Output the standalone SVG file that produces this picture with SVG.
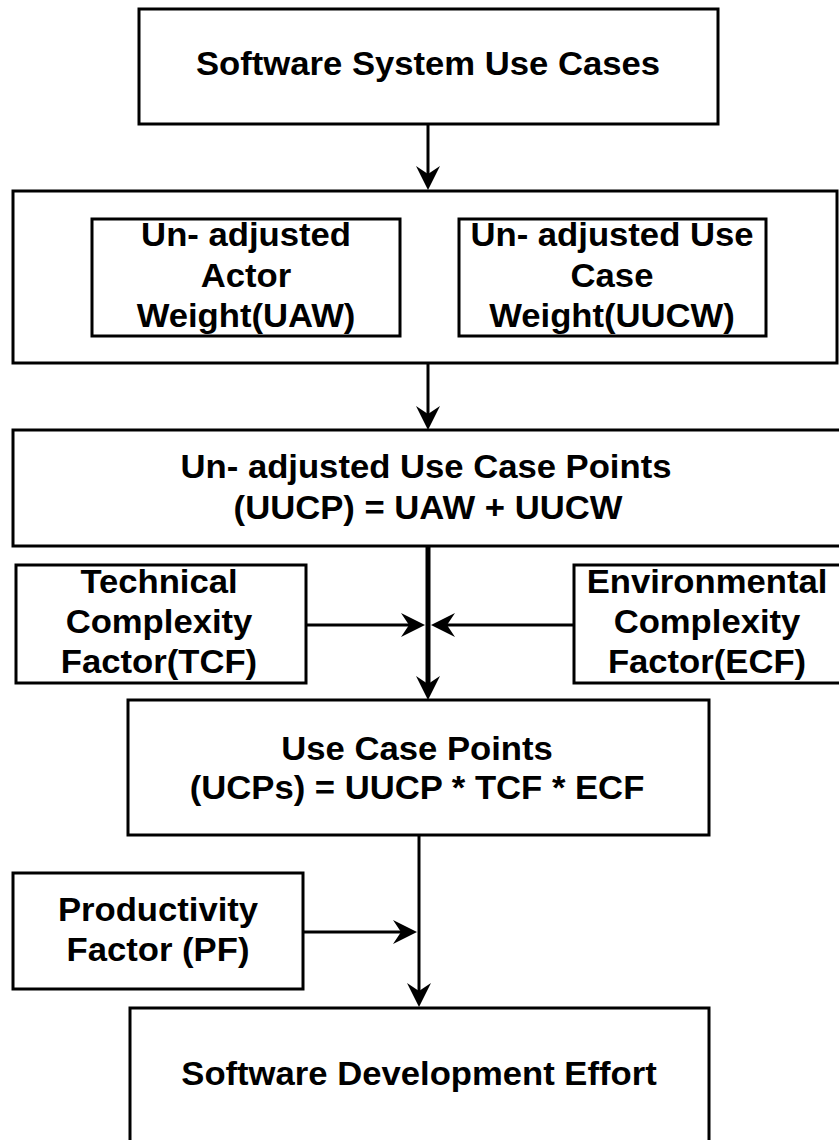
<svg xmlns="http://www.w3.org/2000/svg" width="839" height="1140" viewBox="0 0 839 1140">
  <style>
    .box { fill: #ffffff; stroke: #000000; stroke-width: 3; }
    .lbl { font-family: "Liberation Sans", Arial, Helvetica, sans-serif; font-weight: bold; font-size: 33px; fill: #000000; text-anchor: middle; }
    .link { fill: none; stroke: #000000; stroke-width: 3; }
    .thick { stroke-width: 5; }
  </style>
  <defs>
    <marker id="head" markerUnits="userSpaceOnUse" markerWidth="26" markerHeight="26" viewBox="0 0 26 26" refX="13" refY="13" orient="auto">
      <path d="M0,1 L24,13 L0,25 L8,13 Z" fill="#000000"/>
    </marker>
  </defs>

  <rect width="839" height="1140" fill="#ffffff"/>

  <!-- connectors -->
  <g id="connectors">
    <line class="link" x1="428" y1="124" x2="428" y2="179" marker-end="url(#head)"/>
    <line class="link" x1="428" y1="363" x2="428" y2="419" marker-end="url(#head)"/>
    <line class="link thick" x1="428" y1="546" x2="428" y2="689" marker-end="url(#head)"/>
    <line class="link" x1="306" y1="625" x2="414" y2="625" marker-end="url(#head)"/>
    <line class="link" x1="574" y1="625" x2="442" y2="625" marker-end="url(#head)"/>
    <line class="link" x1="419" y1="835" x2="419" y2="996" marker-end="url(#head)"/>
    <line class="link" x1="303" y1="932" x2="406" y2="932" marker-end="url(#head)"/>
  </g>

  <!-- nodes -->
  <g id="use-cases">
    <rect class="box" x="139" y="9" width="579" height="115"/>
    <text class="lbl" transform="translate(428 75) scale(1.05 1)">Software System Use Cases</text>
  </g>

  <g id="unadjusted-weights">
    <rect class="box" x="13" y="191" width="824" height="172"/>
  </g>

  <g id="uaw">
    <rect class="box" x="92" y="219" width="308" height="117"/>
    <text class="lbl" transform="translate(246 246) scale(1.05 1)">Un- adjusted</text>
    <text class="lbl" transform="translate(246 287) scale(1.05 1)">Actor</text>
    <text class="lbl" transform="translate(246 327) scale(1.05 1)">Weight(UAW)</text>
  </g>

  <g id="uucw">
    <rect class="box" x="459" y="219" width="307" height="117"/>
    <text class="lbl" transform="translate(612 246) scale(1.05 1)">Un- adjusted Use</text>
    <text class="lbl" transform="translate(612 287) scale(1.05 1)">Case</text>
    <text class="lbl" transform="translate(612 327) scale(1.05 1)">Weight(UUCW)</text>
  </g>

  <g id="uucp">
    <rect class="box" x="13" y="430" width="829" height="116"/>
    <text class="lbl" transform="translate(426 478) scale(1.05 1)">Un- adjusted Use Case Points</text>
    <text class="lbl" transform="translate(428 519) scale(1.05 1)">(UUCP) = UAW + UUCW</text>
  </g>

  <g id="tcf">
    <rect class="box" x="16" y="565" width="290" height="118"/>
    <text class="lbl" transform="translate(159 593) scale(1.05 1)">Technical</text>
    <text class="lbl" transform="translate(159 633) scale(1.05 1)">Complexity</text>
    <text class="lbl" transform="translate(159 673) scale(1.05 1)">Factor(TCF)</text>
  </g>

  <g id="ecf">
    <rect class="box" x="574" y="565" width="268" height="118"/>
    <text class="lbl" transform="translate(707 593) scale(1.05 1)">Environmental</text>
    <text class="lbl" transform="translate(707 633) scale(1.05 1)">Complexity</text>
    <text class="lbl" transform="translate(707 673) scale(1.05 1)">Factor(ECF)</text>
  </g>

  <g id="ucp">
    <rect class="box" x="128" y="700" width="581" height="135"/>
    <text class="lbl" transform="translate(417 760) scale(1.05 1)">Use Case Points</text>
    <text class="lbl" transform="translate(417 799) scale(1.05 1)">(UCPs) = UUCP * TCF * ECF</text>
  </g>

  <g id="pf">
    <rect class="box" x="13" y="873" width="290" height="116"/>
    <text class="lbl" transform="translate(158 921) scale(1.05 1)">Productivity</text>
    <text class="lbl" transform="translate(158 961) scale(1.05 1)">Factor (PF)</text>
  </g>

  <g id="effort">
    <rect class="box" x="130" y="1008" width="579" height="134"/>
    <text class="lbl" transform="translate(419 1085) scale(1.05 1)">Software Development Effort</text>
  </g>
</svg>
